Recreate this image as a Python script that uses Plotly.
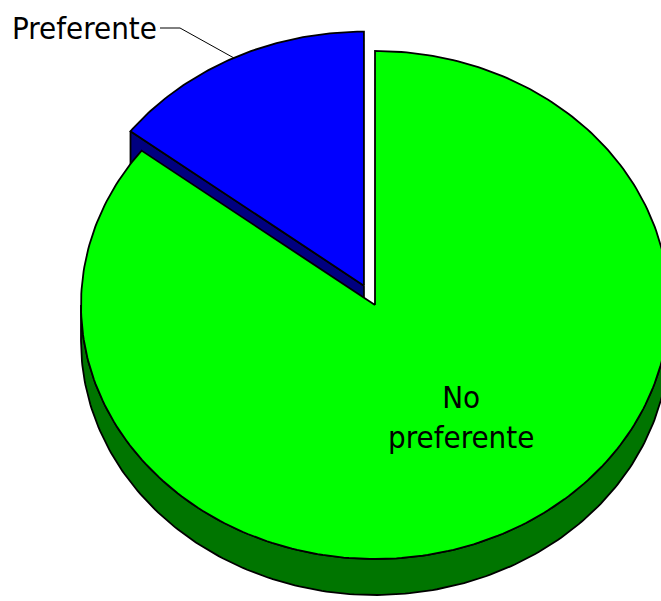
import numpy as np
import plotly.graph_objects as go

# Survey share by category (percent)
categories = ["No preferente", "Preferente"]
shares = [85.4, 14.6]
top_colors = ["#00FF00", "#0000FF"]
side_colors = ["#007500", "#000080"]

# 3D pie geometry in screen units
W, H = 661, 601
cx, cy = 375.0, 305.0
rx, ry = 294.0, 254.0
depth = 36.0
explode = [0.0, 0.085]
font = "DejaVu Sans Condensed, DejaVu Sans, sans-serif"


def rim(theta_deg, ox=0.0, oy=0.0, dz=0.0):
    t = np.radians(np.asarray(theta_deg, dtype=float))
    return cx + ox + rx * np.sin(t), cy + oy - ry * np.cos(t) + dz


# slice angle spans, measured clockwise from 12 o'clock
total = sum(shares)
spans = []
start = 0.0
for v in shares:
    sweep = 360.0 * v / total
    spans.append((start, start + sweep))
    start += sweep

offsets = []
for (a0, a1), e in zip(spans, explode):
    mid = np.radians((a0 + a1) / 2)
    offsets.append((e * rx * np.sin(mid), -e * ry * np.cos(mid)))

fig = go.Figure()


def poly(xs, ys, fill):
    xs = list(xs) + [xs[0]]
    ys = list(ys) + [ys[0]]
    fig.add_trace(go.Scatter(
        x=xs, y=ys, mode="lines", fill="toself", fillcolor=fill,
        line=dict(color="black", width=1.8), hoverinfo="skip", showlegend=False))


# blue slice: visible radial face, then its top
(b0, b1), (bx, by) = spans[1], offsets[1]
ex, ey = rim(b0, bx, by)
vx, vy = cx + bx, cy + by
poly([vx, ex, ex, vx], [vy, ey, ey + depth, vy + depth], side_colors[1])
th = np.linspace(b0, b1, 80)
px, py = rim(th, bx, by)
poly([vx] + list(px), [vy] + list(py), top_colors[1])

# green slice: front wall, then its top
(g0, g1), (gx, gy) = spans[0], offsets[0]
w0, w1 = max(g0, 90.0), min(g1, 270.0)
th = np.linspace(w0, w1, 200)
tx, ty = rim(th, gx, gy)
bx2, by2 = rim(th[::-1], gx, gy, depth)
poly(list(tx) + list(bx2), list(ty) + list(by2), side_colors[0])
th = np.linspace(g0, g1, 300)
px, py = rim(th, gx, gy)
poly([cx + gx] + list(px), [cy + gy] + list(py), top_colors[0])

# leader line from the blue rim midpoint to its label
mx, my = rim((b0 + b1) / 2, bx, by)
fig.add_trace(go.Scatter(
    x=[mx, 180, 160], y=[my, 28, 28], mode="lines",
    line=dict(color="black", width=1), hoverinfo="skip", showlegend=False))

fig.add_annotation(x=159, y=28, text=categories[1], showarrow=False,
                   xanchor="right", yanchor="middle",
                   font=dict(family=font, size=31, color="black"))
fig.add_annotation(x=461, y=417, text="No<br>preferente", showarrow=False,
                   xanchor="center", yanchor="middle",
                   font=dict(family=font, size=31, color="black"))

fig.update_layout(
    width=W, height=H, margin=dict(l=0, r=0, t=0, b=0),
    paper_bgcolor="white", plot_bgcolor="white",
    xaxis=dict(range=[0, W], visible=False, fixedrange=True),
    yaxis=dict(range=[H, 0], visible=False, fixedrange=True),
)

fig.write_html("out.html")
